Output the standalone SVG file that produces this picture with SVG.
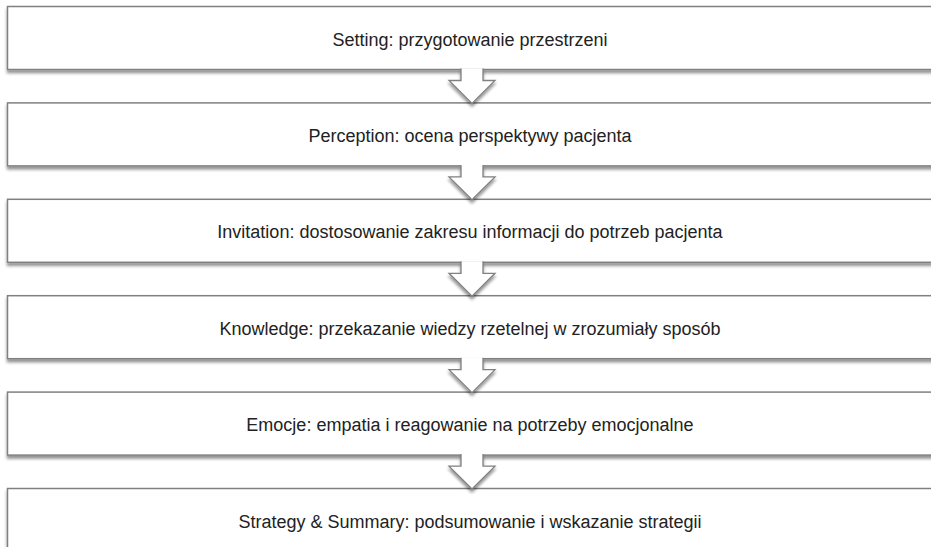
<svg xmlns="http://www.w3.org/2000/svg" width="931" height="547" viewBox="0 0 931 547">
<style>
.box{fill:#ffffff;stroke:#808080;stroke-width:1.5;filter:url(#sh)}
.arr{fill:#ffffff;stroke:#808080;stroke-width:1.3;stroke-linejoin:miter;filter:url(#sh)}
.lbl{font-family:"Liberation Sans",Arial,sans-serif;font-size:18px;fill:#222222;text-anchor:middle}
</style>
<defs>
<filter id="sh" x="-5%" y="-20%" width="110%" height="150%">
<feDropShadow dx="0" dy="3" stdDeviation="1.6" flood-color="#000" flood-opacity="0.42"/>
</filter>
</defs>
<rect width="931" height="547" fill="#ffffff"/>
<g id="n1"><rect class="box" x="7.5" y="6.5" width="930" height="63"/><text class="lbl" x="470" y="45.5">Setting: przygotowanie przestrzeni</text></g>
<g id="n2"><rect class="box" x="7.5" y="102.9" width="930" height="63"/><text class="lbl" x="470" y="141.9">Perception: ocena perspektywy pacjenta</text></g>
<g id="n3"><rect class="box" x="7.5" y="199.3" width="930" height="63"/><text class="lbl" x="470" y="238.3">Invitation: dostosowanie zakresu informacji do potrzeb pacjenta</text></g>
<g id="n4"><rect class="box" x="7.5" y="295.7" width="930" height="63"/><text class="lbl" x="470" y="334.7">Knowledge: przekazanie wiedzy rzetelnej w zrozumiały sposób</text></g>
<g id="n5"><rect class="box" x="7.5" y="392.1" width="930" height="63"/><text class="lbl" x="470" y="431.1">Emocje: empatia i reagowanie na potrzeby emocjonalne</text></g>
<g id="n6"><rect class="box" x="7.5" y="488.5" width="930" height="70"/><text class="lbl" x="470" y="527.5">Strategy &amp; Summary: podsumowanie i wskazanie strategii</text></g>
<g id="connectors">
<path class="arr" d="M461,68.5 V80.5 H449 L472,103.4 L495,80.5 H483 V68.5"/>
<path class="arr" d="M461,164.9 V176.9 H449 L472,199.8 L495,176.9 H483 V164.9"/>
<path class="arr" d="M461,261.3 V273.3 H449 L472,296.2 L495,273.3 H483 V261.3"/>
<path class="arr" d="M461,357.7 V369.7 H449 L472,392.6 L495,369.7 H483 V357.7"/>
<path class="arr" d="M461,454.1 V466.1 H449 L472,489 L495,466.1 H483 V454.1"/>
</g>
</svg>
